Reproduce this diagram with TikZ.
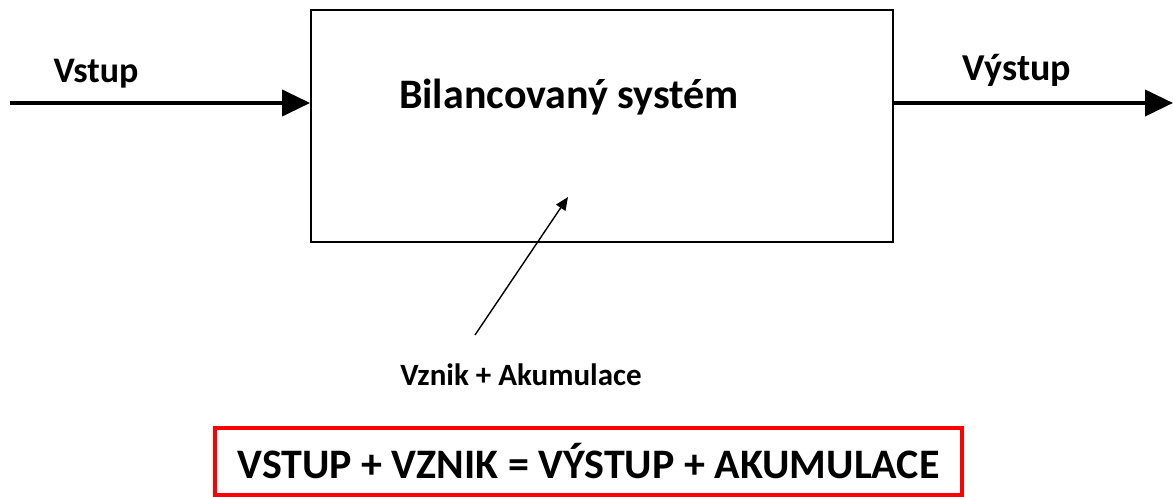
\documentclass[tikz,border=0pt]{standalone}
\usepackage{fontspec}
\setmainfont{Carlito}
\usetikzlibrary{arrows.meta}
\tikzset{
  lbl/.style={font=\bfseries\fontsize{36}{40}\selectfont, anchor=base, inner sep=0pt},
  sysbox/.style={draw=black, line width=1.8pt, minimum width=582pt, minimum height=232pt, inner sep=0pt},
  flow/.style={line width=4pt, -{Triangle[length=28pt,width=26pt]}},
  thin/.style={line width=1.4pt, -{Triangle[length=13pt,width=11pt]}},
  eqbox/.style={draw=red, line width=3.5pt, minimum width=747pt, minimum height=67pt, inner sep=0pt}
}
\begin{document}
\begin{tikzpicture}[x=1pt,y=1pt]
\useasboundingbox (0,0) rectangle (1173,497);
\fill[white] (0,0) rectangle (1173,497);
% system box
\node[sysbox] (sys) at (602,371) {};
\node[lbl, font=\bfseries\fontsize{42}{46}\selectfont] (title) at (569,388) {Bilancovaný systém};
% input / output
\coordinate (in) at (10,394);
\coordinate (out) at (1173,394);
\draw[flow] (in) -- (sys.west |- in);
\draw[flow] (sys.east |- out) -- (out);
\node[lbl] (vstup) at (96,414) {Vstup};
\node[lbl, font=\bfseries\fontsize{38}{42}\selectfont] (vystup) at (1017,416) {Výstup};
% generation + accumulation
\node[lbl, font=\bfseries\fontsize{31}{35}\selectfont] (vznik) at (521,111) {Vznik + Akumulace};
\coordinate (vzs) at (475,162);
\coordinate (vze) at (568,300);
\draw[thin] (vzs) -- (vze);
% equation box
\node[eqbox] (eqb) at (588.5,35.5) {};
\node[anchor=base, inner sep=0pt, font=\bfseries\fontsize{42}{46}\selectfont] (eq) at (588.5,18) {VSTUP + VZNIK = VÝSTUP + AKUMULACE};
\end{tikzpicture}
\end{document}
